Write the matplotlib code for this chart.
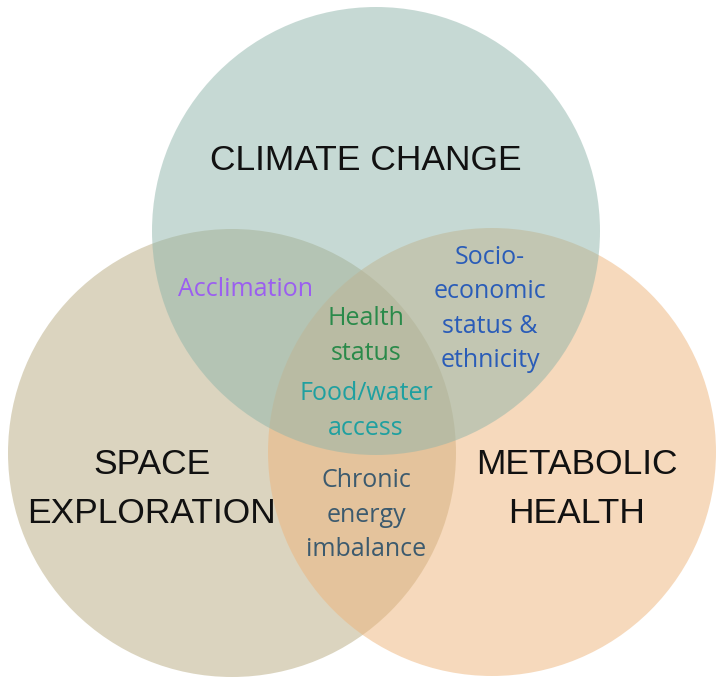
import matplotlib.pyplot as plt
from matplotlib.patches import Circle

# sets of the Venn diagram
set_names = ['SPACE\nEXPLORATION', 'METABOLIC\nHEALTH', 'CLIMATE CHANGE']
set_colors = ['#b8aa80', '#eeb47a', '#8fb5aa']

# labels inside the overlaps
region_labels = ['Acclimation', 'Health\nstatus', 'Food/water\naccess',
                 'Socio-\neconomic\nstatus &\nethnicity', 'Chronic\nenergy\nimbalance']
region_colors = ['#9b5ef0', '#2a8a4a', '#1fa0a0', '#2a5cb8', '#3c5a6e']

# layout (pixel space, y down)
centers = [(232, 453), (492, 452), (376, 231)]
radius = 224
name_pos = [(152, 489), (577, 489), (366, 160)]
label_pos = [(245, 289), (366, 336), (366, 411), (490, 309), (366, 515)]
line_step = 34.5

fig = plt.figure(figsize=(7.16, 6.79), dpi=100)
ax = fig.add_axes([0, 0, 1, 1])
ax.set_xlim(0, 716)
ax.set_ylim(679, 0)
ax.set_aspect('equal')
ax.axis('off')

for (cx, cy), col in zip(centers, set_colors):
    ax.add_patch(Circle((cx, cy), radius, facecolor=col, edgecolor='none', alpha=0.5))

for name, (x, y) in zip(set_names, name_pos):
    lines = name.split('\n')
    y0 = y - (len(lines) - 1) * 49 / 2
    for i, ln in enumerate(lines):
        ax.text(x, y0 + i * 49, ln, fontsize=25.5, family='Liberation Sans',
                color='#111111', ha='center', va='center')

for lab, col, (x, y) in zip(region_labels, region_colors, label_pos):
    lines = lab.split('\n')
    y0 = y - (len(lines) - 1) * line_step / 2
    for i, ln in enumerate(lines):
        ax.text(x, y0 + i * line_step, ln, fontsize=18, family='Open Sans',
                color=col, ha='center', va='center')

fig.savefig('out.png', dpi=100)
